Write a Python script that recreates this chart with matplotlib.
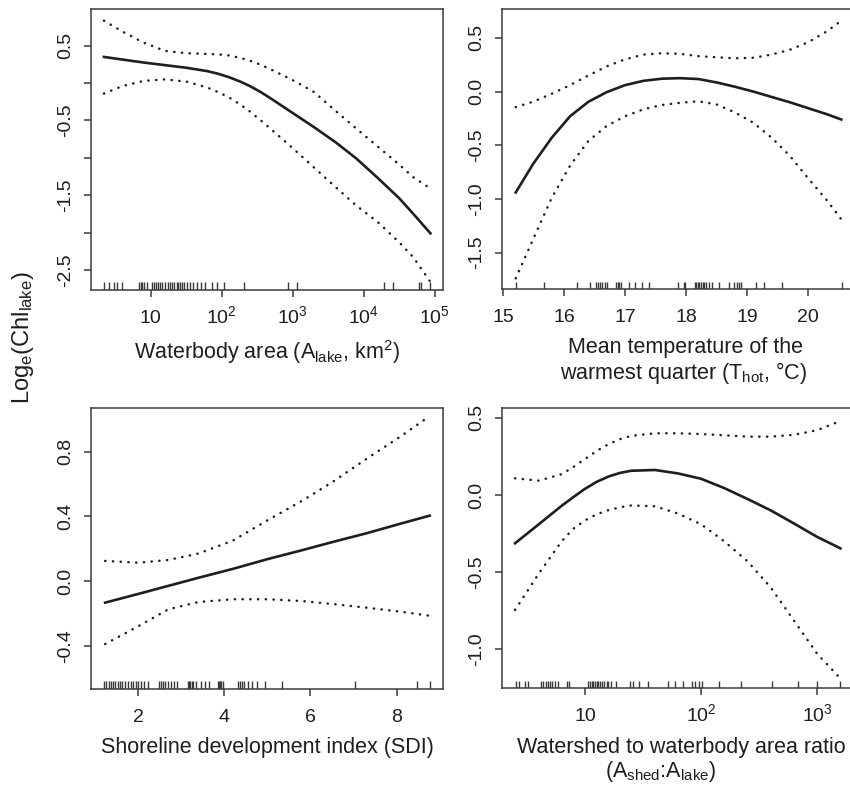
import numpy as np
import matplotlib
matplotlib.use("Agg")
import matplotlib.pyplot as plt
from matplotlib.ticker import NullLocator

plt.rcParams['font.family'] = ['Liberation Sans', 'DejaVu Sans']
plt.rcParams['mathtext.fontset'] = 'custom'
plt.rcParams['mathtext.rm'] = 'Liberation Sans'
plt.rcParams['mathtext.it'] = 'Liberation Sans:italic'
plt.rcParams['mathtext.bf'] = 'Liberation Sans:bold'
plt.rcParams['mathtext.default'] = 'regular'

# panel 1: waterbody area (km2)
area_x = [2.2, 4, 8, 16, 32, 63, 89, 126, 178, 250, 355, 500, 1000, 2000, 4000, 7900, 15800, 31600, 50000, 87000]
area_fit = [0.35, 0.315, 0.275, 0.24, 0.205, 0.16, 0.125, 0.08, 0.025, -0.04, -0.12, -0.21, -0.40, -0.59, -0.79, -1.01, -1.27, -1.54, -1.75, -2.01]
area_up = [0.835, 0.69, 0.54, 0.43, 0.40, 0.39, 0.385, 0.37, 0.34, 0.30, 0.245, 0.18, 0.04, -0.12, -0.37, -0.61, -0.85, -1.09, -1.26, -1.41]
area_lo = [-0.14, -0.04, 0.03, 0.05, 0.02, -0.06, -0.12, -0.19, -0.28, -0.38, -0.50, -0.62, -0.87, -1.13, -1.39, -1.64, -1.86, -2.13, -2.33, -2.66]
area_rug = [2.2, 2.6, 3.0, 3.4, 3.9, 6.9, 7.2, 7.6, 8.1, 8.8, 10.3, 11.1, 11.7, 12.6, 13.5, 14.6,
            15.9, 17.3, 18.7, 20.2, 21.5, 23.2, 24.5, 25.9, 27.9, 29.8, 32.1, 35.8, 39.9, 44.5,
            51.2, 58.2, 72.3, 85.1, 109, 208, 869, 1138, 19540, 26180, 60120, 64270, 85900]

# panel 2: mean temperature of warmest quarter
temp_x = [15.21, 15.5, 15.8, 16.1, 16.4, 16.7, 17.0, 17.3, 17.6, 17.9, 18.2, 18.5, 18.8, 19.1, 19.4, 19.7, 20.0, 20.3, 20.54]
temp_fit = [-0.94, -0.67, -0.43, -0.23, -0.095, -0.005, 0.06, 0.10, 0.12, 0.125, 0.117, 0.085, 0.045, 0.0, -0.05, -0.10, -0.155, -0.21, -0.26]
temp_up = [-0.145, -0.093, -0.02, 0.06, 0.15, 0.235, 0.30, 0.345, 0.357, 0.352, 0.33, 0.32, 0.31, 0.315, 0.345, 0.39, 0.46, 0.56, 0.66]
temp_lo = [-1.74, -1.37, -0.99, -0.69, -0.46, -0.32, -0.23, -0.165, -0.125, -0.105, -0.09, -0.12, -0.195, -0.29, -0.43, -0.60, -0.81, -1.01, -1.19]
temp_rug = [15.22, 15.67, 16.21, 16.43, 16.52, 16.56, 16.59, 16.63, 16.67, 16.71, 16.86, 16.88, 16.90,
            16.93, 17.07, 17.16, 17.28, 17.39, 17.86, 17.97, 17.98, 18.14, 18.16, 18.19, 18.21, 18.24,
            18.27, 18.30, 18.32, 18.38, 18.43, 18.54, 18.70, 18.79, 18.83, 18.86, 18.90, 19.14, 19.28,
            19.57, 20.56]

# panel 3: shoreline development index
sdi_x = [1.23, 2.0, 2.7, 3.4, 4.2, 5.0, 5.8, 6.5, 7.3, 8.1, 8.77]
sdi_fit = [-0.134, -0.08, -0.03, 0.02, 0.075, 0.135, 0.19, 0.24, 0.295, 0.355, 0.404]
sdi_up = [0.124, 0.113, 0.13, 0.17, 0.25, 0.375, 0.495, 0.61, 0.755, 0.895, 1.02]
sdi_lo = [-0.39, -0.28, -0.175, -0.13, -0.113, -0.113, -0.124, -0.142, -0.165, -0.19, -0.215]
sdi_rug = [1.21, 1.26, 1.32, 1.37, 1.42, 1.47, 1.52, 1.57, 1.63, 1.69, 1.77, 1.83, 1.88, 1.94, 2.0,
           2.06, 2.14, 2.22, 2.48, 2.53, 2.58, 2.63, 2.70, 2.77, 2.84, 2.91, 3.15, 3.18, 3.21, 3.24,
           3.28, 3.33, 3.46, 3.55, 3.64, 3.84, 3.87, 3.90, 3.93, 3.97, 4.32, 4.36, 4.40, 4.45, 4.55,
           4.65, 4.75, 4.94, 5.33, 7.03, 8.48, 8.77]

# panel 4: watershed to waterbody area ratio
ratio_x = [2.5, 4, 6.3, 7.9, 10, 12.6, 16, 20, 25, 40, 63, 100, 158, 251, 398, 631, 1000, 1585]
ratio_fit = [-0.313, -0.19, -0.07, -0.015, 0.04, 0.085, 0.12, 0.143, 0.157, 0.162, 0.14, 0.105, 0.045, -0.026, -0.10, -0.185, -0.272, -0.346]
ratio_up = [0.108, 0.093, 0.135, 0.18, 0.233, 0.285, 0.33, 0.362, 0.383, 0.40, 0.40, 0.395, 0.387, 0.378, 0.378, 0.39, 0.42, 0.48]
ratio_lo = [-0.745, -0.51, -0.30, -0.22, -0.165, -0.125, -0.098, -0.08, -0.068, -0.073, -0.12, -0.19, -0.30, -0.43, -0.60, -0.815, -1.03, -1.19]
ratio_rug = [2.53, 2.70, 3.04, 3.21, 4.18, 4.38, 4.58, 4.78, 5.0, 5.24, 5.52, 5.82, 6.95, 7.28, 10.7,
             11.0, 11.4, 11.8, 12.2, 12.6, 13.0, 13.6, 14.1, 14.7, 15.4, 15.9, 16.7, 18.4, 24.4, 26.1,
             29.2, 35.1, 51.5, 59.6, 70.1, 82.8, 88.5, 95.7, 101, 143, 220, 405, 678, 1000, 1567]

ink = '#1e1e1e'
frame = '#3a3a3a'
dots = (0, (0.1, 3.0))


def draw_panel(ax, x, fit, up, lo, rug, xlim, ylim, xticks, xlabels, yticks, ylabels, logx=False):
    if logx:
        ax.set_xscale('log')
        ax.xaxis.set_minor_locator(NullLocator())
    ax.plot(x, fit, color=ink, lw=1.9, solid_joinstyle='round')
    ax.plot(x, up, color=ink, lw=1.8, linestyle=dots, dash_capstyle='round')
    ax.plot(x, lo, color=ink, lw=1.8, linestyle=dots, dash_capstyle='round')
    ax.vlines(rug, 0, 0.027, transform=ax.get_xaxis_transform(), color=frame, lw=1.0)
    ax.set_xlim(xlim)
    ax.set_ylim(ylim)
    ax.set_xticks(xticks)
    ax.set_xticklabels(xlabels)
    ax.set_yticks(yticks)
    ax.set_yticklabels(ylabels)
    for sp in ax.spines.values():
        sp.set_color(frame)
        sp.set_linewidth(1.1)
    ax.tick_params(axis='both', direction='out', length=5, width=1.1, color=frame,
                   labelsize=14, labelcolor=ink)
    ax.tick_params(axis='x', pad=18.5)
    ax.tick_params(axis='y', pad=7)
    for lab in ax.get_xticklabels():
        lab.set_va('baseline')
    for lab in ax.get_yticklabels():
        lab.set_rotation(90)
        lab.set_va('center')
        lab.set_ha('right')


fig = plt.figure(figsize=(8.5, 7.85), dpi=100)

ax1 = fig.add_axes([0.1067, 0.6306, 0.4148, 0.3576])
draw_panel(ax1, area_x, area_fit, area_up, area_lo, area_rug,
           (1.43, 1.32e5), (-2.768, 0.988),
           [10, 100, 1000, 1e4, 1e5], ['10', '$10^2$', '$10^3$', '$10^4$', '$10^5$'],
           [0.5, 0, -0.5, -1, -1.5, -2, -2.5], ['0.5', '', '-0.5', '', '-1.5', '', '-2.5'],
           logx=True)

ax2 = fig.add_axes([0.5909, 0.6315, 0.4132, 0.3567])
draw_panel(ax2, temp_x, temp_fit, temp_up, temp_lo, temp_rug,
           (14.99, 20.74), (-1.842, 0.767),
           [15, 16, 17, 18, 19, 20], ['15', '16', '17', '18', '19', '20'],
           [0.5, 0, -0.5, -1, -1.5], ['0.5', '0.0', '-0.5', '-1.0', '-1.5'])

ax3 = fig.add_axes([0.1067, 0.1223, 0.4148, 0.3576])
draw_panel(ax3, sdi_x, sdi_fit, sdi_up, sdi_lo, sdi_rug,
           (0.894, 9.085), (-0.668, 1.068),
           [2, 4, 6, 8], ['2', '4', '6', '8'],
           [0.8, 0.4, 0, -0.4], ['0.8', '0.4', '0.0', '-0.4'])

ax4 = fig.add_axes([0.5909, 0.1232, 0.4132, 0.3567])
draw_panel(ax4, ratio_x, ratio_fit, ratio_up, ratio_lo, ratio_rug,
           (1.94, 2051), (-1.253, 0.562),
           [10, 100, 1000], ['10', '$10^2$', '$10^3$'],
           [0.5, 0, -0.5, -1], ['0.5', '0.0', '-0.5', '-1.0'],
           logx=True)

W, H = 850.0, 785.0
lab_kw = dict(fontsize=15.5, color=ink, ha='center', va='center')
fig.text(267 / W, 1 - 352 / H, 'Waterbody area (A$_{lake}$, km$^2$)', **lab_kw)
fig.text(686 / W, 1 - 348 / H, 'Mean temperature of the', **lab_kw)
fig.text(684 / W, 1 - 373 / H, 'warmest quarter (T$_{hot}$, \u00b0C)', **lab_kw)
fig.text(267.5 / W, 1 - 748 / H, 'Shoreline development index (SDI)', **lab_kw)
fig.text(681 / W, 1 - 748 / H, 'Watershed to waterbody area ratio', **lab_kw)
fig.text(661 / W, 1 - 771 / H, '(A$_{shed}$:A$_{lake}$)', **lab_kw)
fig.text(23 / W, 1 - 338 / H, 'Log$_e$(Chl$_{lake}$)', fontsize=17, color=ink,
         rotation=90, ha='center', va='center')

plt.savefig('out.png', dpi=100)
